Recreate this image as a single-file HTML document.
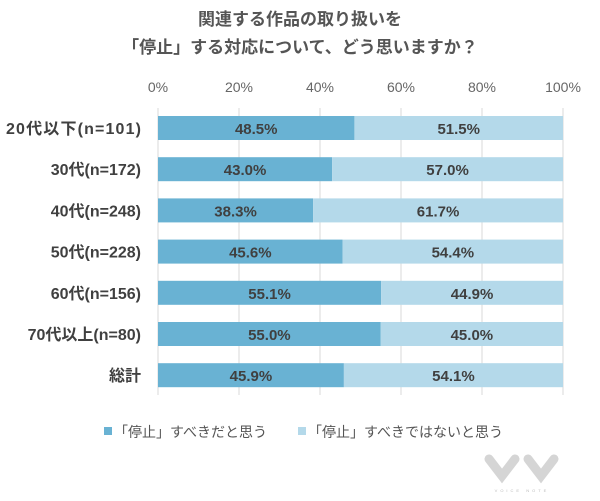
<!DOCTYPE html>
<html><head><meta charset="utf-8"><style>
body{margin:0;background:#fff;width:600px;height:496px;overflow:hidden;font-family:"Liberation Sans","Noto Sans CJK JP",sans-serif}
</style></head><body>
<svg width="600" height="496" viewBox="0 0 600 496" xmlns="http://www.w3.org/2000/svg" font-family="Liberation Sans, Noto Sans CJK JP, sans-serif">
<g id="root"></g>
</svg>
<script>
const categories=["20代以下(n=101)","30代(n=172)","40代(n=248)","50代(n=228)","60代(n=156)","70代以上(n=80)","総計"];
const yesValues=[48.5,43.0,38.3,45.6,55.1,55.0,45.9];
const noValues=[51.5,57.0,61.7,54.4,44.9,45.0,54.1];
const tickValues=[0,20,40,60,80,100];
const NS="http://www.w3.org/2000/svg";
const root=document.getElementById('root');
const X0=158,X1=563,Y0=116,STEP=41.2,BH=24;
const x=v=>X0+(X1-X0)*v/100;
const y=i=>Y0+i*STEP;
function mk(t,a,txt){const e=document.createElementNS(NS,t);for(const k in a)e.setAttribute(k,a[k]);if(txt!=null)e.textContent=txt;root.appendChild(e);return e;}
let e;
e=mk('text',{x:300,y:25,'text-anchor':'middle','font-size':17,'font-weight':'bold',fill:'#555'},'関連する作品の取り扱いを');


e=mk('text',{x:300,y:53,'text-anchor':'middle','font-size':17,'font-weight':'bold',fill:'#555'},'「停止」する対応について、どう思いますか？');


tickValues.forEach(t=>{
 e=mk('line',{x1:x(t),x2:x(t),y1:108,y2:395,stroke:'#d9d9d9','stroke-width':1});
 
 
 e=mk('text',{x:x(t),y:92,'text-anchor':'middle','font-size':14,fill:'#666'},t+'%');
 
 
});
categories.forEach((c,i)=>{
 e=mk('rect',{x:x(0),y:y(i),width:x(yesValues[i])-x(0),height:BH,fill:'#69b2d3'});
 
 
 e=mk('rect',{x:x(yesValues[i]),y:y(i),width:x(yesValues[i]+noValues[i])-x(yesValues[i]),height:BH,fill:'#b4d9ea'});
 
 
 e=mk('text',{x:(x(0)+x(yesValues[i]))/2,y:y(i)+18,'text-anchor':'middle','font-size':15,'font-weight':'bold',fill:'#404040'},yesValues[i].toFixed(1)+'%');
 
 
 e=mk('text',{x:(x(yesValues[i])+x(yesValues[i]+noValues[i]))/2,y:y(i)+18,'text-anchor':'middle','font-size':15,'font-weight':'bold',fill:'#404040'},noValues[i].toFixed(1)+'%');
 
 
 e=mk('text',{x:141,y:y(i)+18,'text-anchor':'end','font-size':16,'font-weight':'bold',fill:'#404040',textLength:(i===0?135:null)},c);
 if(i!==0)e.removeAttribute('textLength');
 
 
});
e=mk('rect',{x:104,y:427,width:8,height:8,fill:'#69b2d3'});


e=mk('text',{x:114,y:437,'font-size':14,fill:'#555'},'「停止」すべきだと思う');


e=mk('rect',{x:298,y:427,width:8,height:8,fill:'#b4d9ea'});


e=mk('text',{x:308,y:437,'font-size':14,fill:'#555'},'「停止」すべきではないと思う');


[[502,470],[541,470]].forEach(p=>{
 e=mk('path',{d:`M${p[0]-13} ${p[1]-11} L${p[0]} ${p[1]+6} L${p[0]+13} ${p[1]-11}`,stroke:'#d5d5d5','stroke-width':9,fill:'none','stroke-linecap':'round'});
 
 
});
e=mk('text',{x:522,y:492,'text-anchor':'middle','font-size':4,fill:'#bbb','letter-spacing':3},'VOICE NOTE');


</script>
</body></html>
